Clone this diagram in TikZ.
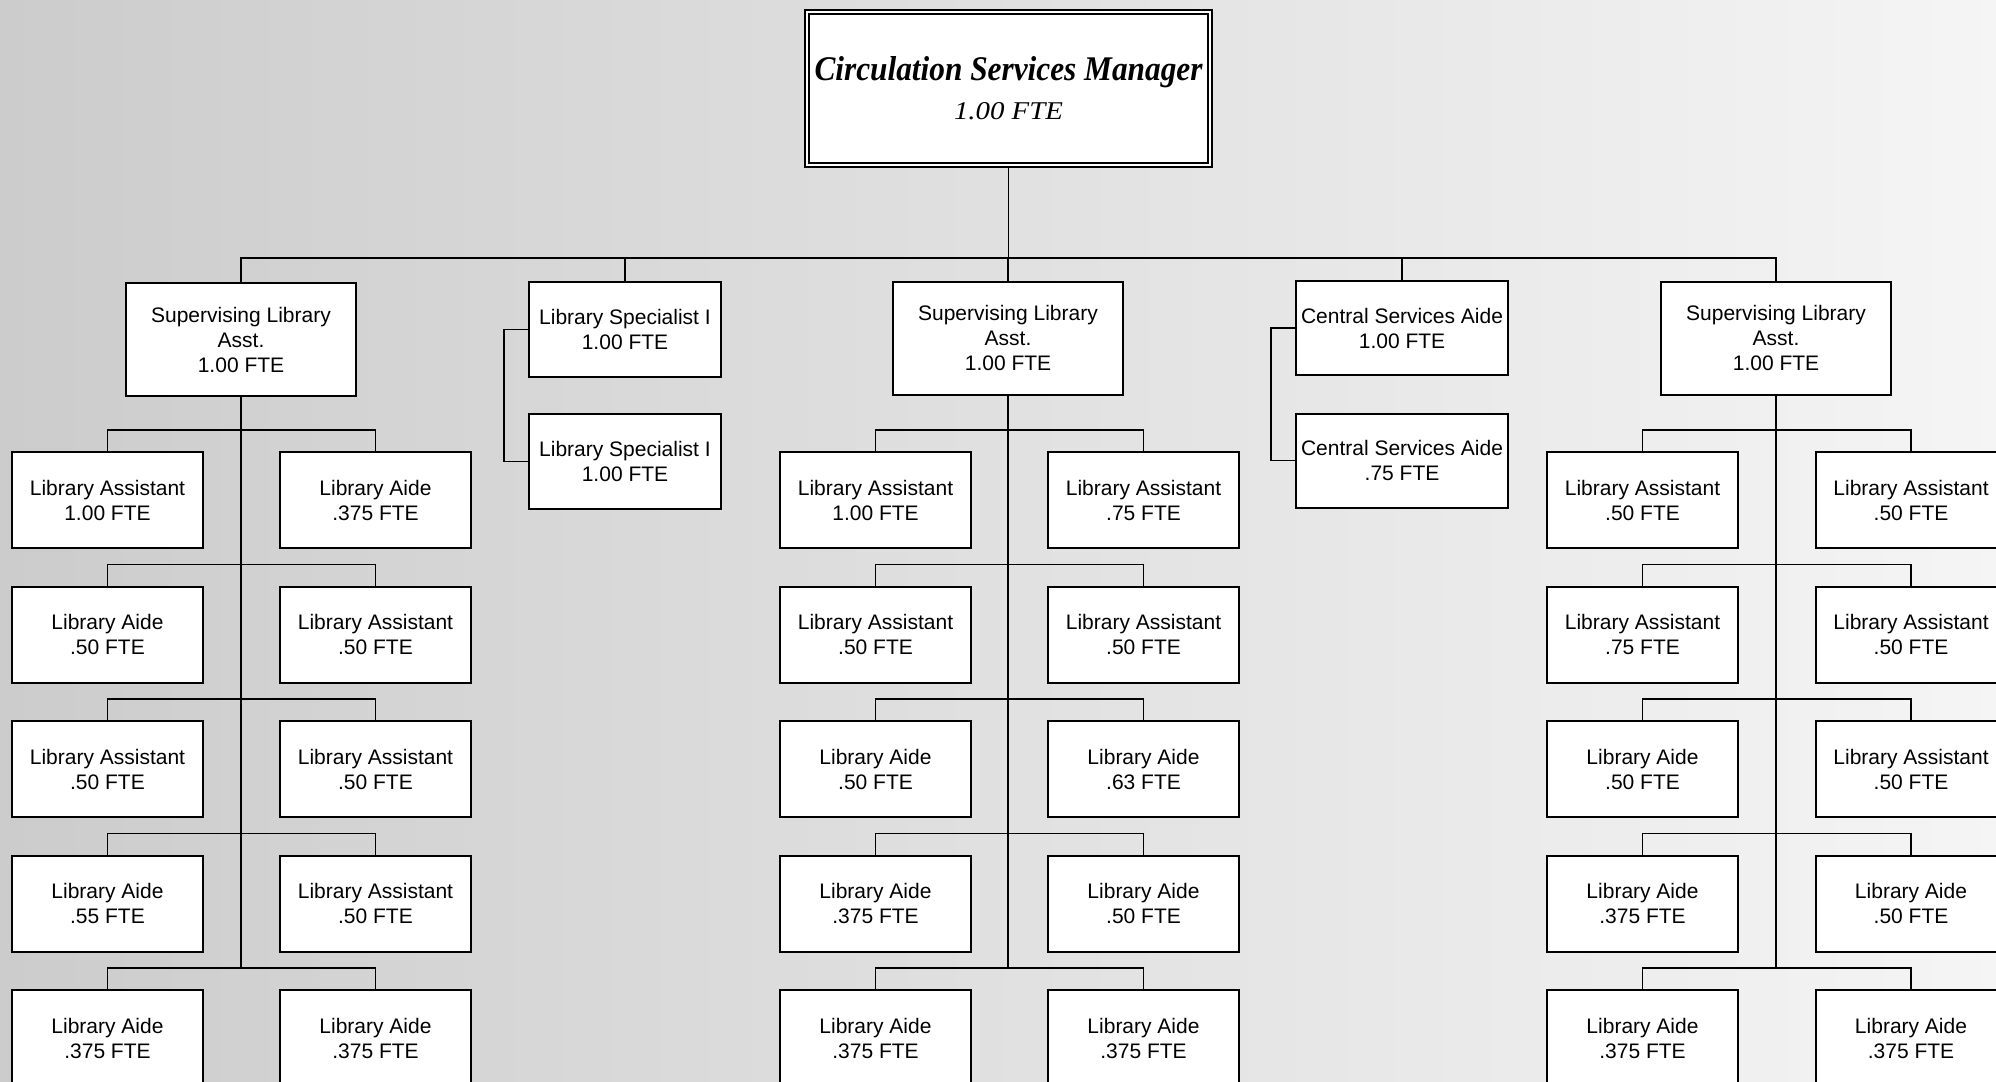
\documentclass[tikz,border=0pt]{standalone}
\usepackage{fontspec}
\usepackage{graphicx}
\newfontfamily\arialfont{Liberation Sans}
\newfontfamily\titlefont{Liberation Serif}
\usetikzlibrary{calc}
\begin{document}
\begin{tikzpicture}[x=0.5pt,y=-0.5pt,
  boxbase/.style={draw, line width=1pt, fill=white, inner sep=0pt, align=center,
    font=\arialfont\fontsize{10.5pt}{12.5pt}\selectfont},
  lbox/.style={boxbase, minimum width=95.5pt, minimum height=48pt},
  sbox/.style={boxbase, minimum width=115pt, minimum height=56.5pt},
  spbox/.style={boxbase, minimum width=96pt, minimum height=47.5pt},
  cbox/.style={boxbase, minimum width=106pt, minimum height=47pt},
  mgrbox/.style={draw, double, line width=0.8pt, double distance=1.3pt, fill=white,
    inner sep=0pt, align=center, minimum width=201.5pt, minimum height=76.5pt,
    font=\titlefont\fontsize{12pt}{19.5pt}\selectfont},
  conn/.style={line width=0.7pt}]
\useasboundingbox (0,0) rectangle (1996,1081);
\clip (0,0) rectangle (1996,1081);
\fill[left color=black!20, middle color=black!9, right color=black!4] (0,0) rectangle (1996,1081);

% manager
\node[mgrbox] (mgr) at (1008.5,88.5) {\resizebox{194pt}{12pt}{\bfseries\itshape Circulation Services Manager}\\ \resizebox{54.5pt}{8.5pt}{\itshape 1.00 FTE}};

% level 1
\node[sbox] (sla1) at (241,339.5) {Supervising Library\\Asst.\\1.00 FTE};
\node[spbox] (ls1) at (625,329.5) {Library Specialist I\\1.00 FTE};
\node[spbox] (ls2) at (625,461.5) {Library Specialist I\\1.00 FTE};
\node[sbox] (sla2) at (1008,338) {Supervising Library\\Asst.\\1.00 FTE};
\node[cbox] (csa1) at (1402,328) {Central Services Aide\\1.00 FTE};
\node[cbox] (csa2) at (1402,460.5) {Central Services Aide\\.75 FTE};
\node[sbox] (sla3) at (1776,338) {Supervising Library\\Asst.\\1.00 FTE};

% group 1
\node[lbox] (g1r1l) at (107.5,500) {Library Assistant\\1.00 FTE};
\node[lbox] (g1r1r) at (375.5,500) {Library Aide\\.375 FTE};
\node[lbox] (g1r2l) at (107.5,634.5) {Library Aide\\.50 FTE};
\node[lbox] (g1r2r) at (375.5,634.5) {Library Assistant\\.50 FTE};
\node[lbox] (g1r3l) at (107.5,769) {Library Assistant\\.50 FTE};
\node[lbox] (g1r3r) at (375.5,769) {Library Assistant\\.50 FTE};
\node[lbox] (g1r4l) at (107.5,903.5) {Library Aide\\.55 FTE};
\node[lbox] (g1r4r) at (375.5,903.5) {Library Assistant\\.50 FTE};
\node[lbox] (g1r5l) at (107.5,1038) {Library Aide\\.375 FTE};
\node[lbox] (g1r5r) at (375.5,1038) {Library Aide\\.375 FTE};

% group 2
\node[lbox] (g2r1l) at (875.5,500) {Library Assistant\\1.00 FTE};
\node[lbox] (g2r1r) at (1143.5,500) {Library Assistant\\.75 FTE};
\node[lbox] (g2r2l) at (875.5,634.5) {Library Assistant\\.50 FTE};
\node[lbox] (g2r2r) at (1143.5,634.5) {Library Assistant\\.50 FTE};
\node[lbox] (g2r3l) at (875.5,769) {Library Aide\\.50 FTE};
\node[lbox] (g2r3r) at (1143.5,769) {Library Aide\\.63 FTE};
\node[lbox] (g2r4l) at (875.5,903.5) {Library Aide\\.375 FTE};
\node[lbox] (g2r4r) at (1143.5,903.5) {Library Aide\\.50 FTE};
\node[lbox] (g2r5l) at (875.5,1038) {Library Aide\\.375 FTE};
\node[lbox] (g2r5r) at (1143.5,1038) {Library Aide\\.375 FTE};

% group 3
\node[lbox] (g3r1l) at (1642.5,500) {Library Assistant\\.50 FTE};
\node[lbox] (g3r1r) at (1911,500) {Library Assistant\\.50 FTE};
\node[lbox] (g3r2l) at (1642.5,634.5) {Library Assistant\\.75 FTE};
\node[lbox] (g3r2r) at (1911,634.5) {Library Assistant\\.50 FTE};
\node[lbox] (g3r3l) at (1642.5,769) {Library Aide\\.50 FTE};
\node[lbox] (g3r3r) at (1911,769) {Library Assistant\\.50 FTE};
\node[lbox] (g3r4l) at (1642.5,903.5) {Library Aide\\.375 FTE};
\node[lbox] (g3r4r) at (1911,903.5) {Library Aide\\.50 FTE};
\node[lbox] (g3r5l) at (1642.5,1038) {Library Aide\\.375 FTE};
\node[lbox] (g3r5r) at (1911,1038) {Library Aide\\.375 FTE};

% connectors
\coordinate (bus) at (1008,258);
\draw[conn] (mgr.south) -- (mgr.south |- bus);
\draw[conn] (sla1.north) |- (bus) -| (sla3.north);
\draw[conn] (ls1.north) -- (ls1.north |- bus);
\draw[conn] (sla2.north) -- (sla2.north |- bus);
\draw[conn] (csa1.north) -- (csa1.north |- bus);
\draw[conn] (ls1.west) -- ++(-24,0) |- (ls2.west);
\draw[conn] (csa1.west) -- ++(-24,0) |- (csa2.west);

\foreach \g/\s in {1/sla1,2/sla2,3/sla3}{
  \coordinate (end\g) at ($(g\g r5l.north)+(0,-21)$);
  \draw[conn] (\s.south) -- (\s.south |- end\g);
  \foreach \r in {1,...,5}{
    \draw[conn] (g\g r\r l.north) -- ++(0,-21) -| (g\g r\r r.north);
  }
}
\end{tikzpicture}
\end{document}
